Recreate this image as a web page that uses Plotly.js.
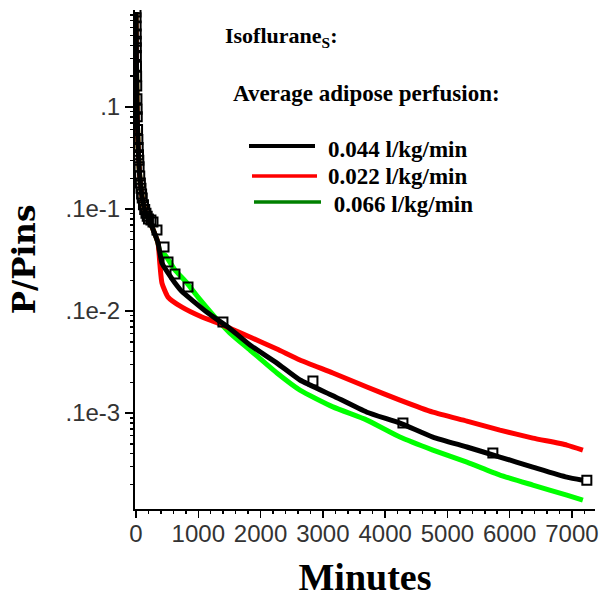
<!DOCTYPE html>
<html>
<head>
<meta charset="utf-8">
<script src="https://cdn.plot.ly/plotly-3.0.1.min.js"></script>
<style>html,body{margin:0;padding:0;background:#fff;}#chart{width:606px;height:598px;}</style>
</head>
<body>
<div id="chart"></div>
<script>
// ---- data (minutes, P/Pins) ----
var tBlack = [0,2,5,10,15,20,30,40,50,60,80,100,140,200,257,353,417,514,626,738,899,1156,1477,1830,2263,2632,3162,3708,4238,4767,5313,5843,6372,6918,7175];
var yBlack = [0.85,0.62,0.38,0.2,0.12,0.08,0.048,0.034,0.026,0.021,0.016,0.0128,0.0099,0.008,0.00667,0.00465,0.00295,0.00236,0.00188,0.00155,0.00128,0.000955,0.000697,0.000464,0.000309,0.000211,0.000148,0.000102,0.0000798,0.0000582,0.0000465,0.0000371,0.0000296,0.0000236,0.0000220];

var tRed = [0,2,5,10,15,20,30,40,50,60,80,100,140,200,257,353,385,417,514,738,1059,1316,1830,2263,2632,3162,3708,4238,4767,5313,5843,6372,6918,7175];
var yRed = [0.85,0.62,0.38,0.2,0.12,0.08,0.048,0.034,0.026,0.021,0.016,0.0128,0.0099,0.008,0.00667,0.00465,0.00282,0.00188,0.00137,0.00109,0.000873,0.000762,0.000556,0.000424,0.000331,0.000247,0.000180,0.000134,0.000102,0.0000835,0.0000681,0.0000569,0.0000486,0.0000434];

var tGreen = [0,2,5,10,15,20,30,40,50,60,80,100,140,200,257,353,385,465,626,819,995,1268,1509,1830,2263,2632,3162,3708,4238,4767,5313,5843,6372,6918,7175];
var yGreen = [0.85,0.62,0.38,0.2,0.12,0.08,0.048,0.034,0.026,0.021,0.016,0.0128,0.0099,0.008,0.00667,0.00465,0.0037,0.00354,0.00252,0.00188,0.00137,0.000873,0.000608,0.000415,0.000247,0.000168,0.000115,0.0000853,0.0000582,0.0000434,0.0000331,0.0000247,0.0000197,0.0000157,0.0000140];

var tObs = [0,1,2,3,4,5,6,8,10,12,15,18,20,25,30,35,40,45,50,60,70,80,90,100,120,140,160,180,200,240,273,337,450,514,626,835,1396,2841,4286,5730,7239];
var yObs = [0.85,0.75,0.62,0.52,0.44,0.38,0.32,0.25,0.2,0.16,0.12,0.095,0.08,0.06,0.048,0.04,0.034,0.03,0.026,0.021,0.018,0.016,0.014,0.0128,0.011,0.0099,0.0091,0.0085,0.008,0.0078,0.00746,0.00622,0.00424,0.00302,0.00231,0.00172,0.00078,0.000206,0.0000798,0.0000406,0.0000220];

var xTickVals = [0,1000,2000,3000,4000,5000,6000,7000];
var yTickVals = [0.1,0.01,0.001,0.0001];
var yTickText = ['.1','.1e-1','.1e-2','.1e-3'];

var legendLabels = ['0.044 l/kg/min','0.022 l/kg/min',' 0.066 l/kg/min'];
var legendColors = ['#000000','#ff0000','#008000'];

// minor log ticks (2..9 per decade)
var yMinor = [];
[1e-5,1e-4,1e-3,1e-2,1e-1].forEach(function(d){ for (var k=2;k<=9;k++) yMinor.push(k*d); });

var xRange = [-16,7370];
var yRange = [-4.94,-0.05];

var traces = [
  {x:tGreen, y:yGreen, mode:'lines', line:{color:'#00ff00', width:5, shape:'spline', smoothing:0.5}, hoverinfo:'skip'},
  {x:tRed, y:yRed, mode:'lines', line:{color:'#ff0000', width:5, shape:'spline', smoothing:0.5}, hoverinfo:'skip'},
  {x:tBlack, y:yBlack, mode:'lines', line:{color:'#000000', width:5, shape:'spline', smoothing:0.5}, hoverinfo:'skip'},
  {x:tObs, y:yObs, mode:'markers', marker:{symbol:'square-open', size:9, color:'#000', line:{width:2, color:'#000'}}, hoverinfo:'skip'},
  // empty trace that carries the minor-tick overlay axes
  {x:[null], y:[null], xaxis:'x2', yaxis:'y2', mode:'markers', hoverinfo:'skip', showlegend:false}
];

var L = 135, R = 595, T = 10, B = 509;
function px(x){ return (x-L)/(R-L); }
function py(y){ return (B-y)/(B-T); }

var legendLines = [[249,315,146,4],[252,317,176,3.5],[254,321,202,3.5]];
var shapes = legendLines.map(function(s,i){
  return {type:'line', xref:'paper', yref:'paper', x0:px(s[0]), x1:px(s[1]), y0:py(s[2]), y1:py(s[2]), line:{color:legendColors[i], width:s[3]}};
});

var textFont = {family:'"Liberation Serif", "Times New Roman", serif', size:22, color:'#000'};
var textFont2 = {family:'"Liberation Serif", "Times New Roman", serif', size:23, color:'#000'};
var annotations = [
  {text:'<b>Isoflurane<sub>S</sub>:</b>', x:px(223), y:py(37), xref:'paper', yref:'paper', xanchor:'left', yanchor:'middle', showarrow:false, font:textFont},
  {text:'<b>Average adipose perfusion:</b>', x:px(231), y:py(93), xref:'paper', yref:'paper', xanchor:'left', yanchor:'middle', showarrow:false, font:textFont2},
  {text:'<b>'+legendLabels[0]+'</b>', x:px(326), y:py(150), xref:'paper', yref:'paper', xanchor:'left', yanchor:'middle', showarrow:false, font:textFont2},
  {text:'<b>'+legendLabels[1]+'</b>', x:px(326), y:py(176), xref:'paper', yref:'paper', xanchor:'left', yanchor:'middle', showarrow:false, font:textFont2},
  {text:'<b>'+legendLabels[2]+'</b>', x:px(326), y:py(205), xref:'paper', yref:'paper', xanchor:'left', yanchor:'middle', showarrow:false, font:textFont2}
];

var tickFont = {family:'"Liberation Sans", Arial, sans-serif', size:24, color:'#333'};

var layout = {
  width:606, height:598,
  margin:{l:L, r:606-R, t:T, b:598-B, pad:0},
  paper_bgcolor:'#fff', plot_bgcolor:'#fff',
  showlegend:false,
  xaxis:{
    range:xRange, tickmode:'array', tickvals:xTickVals,
    ticks:'outside', ticklen:7, tickwidth:1.5, tickcolor:'#000', ticklabelstandoff:-5,
    showline:true, linecolor:'#000', linewidth:2, zeroline:false, showgrid:false,
    tickfont:tickFont, automargin:false,
    title:{text:'<b>Minutes</b>', font:{family:'"Liberation Serif", "Times New Roman", serif', size:38, color:'#000'}, standoff:20}
  },
  yaxis:{
    type:'log', range:yRange, tickmode:'array', tickvals:yTickVals, ticktext:yTickText,
    ticks:'outside', ticklen:8, tickwidth:1.5, tickcolor:'#000',
    showline:true, linecolor:'#000', linewidth:2, zeroline:false, showgrid:false,
    tickfont:tickFont, automargin:false,
    title:{text:'<b>P/Pins</b>', font:{family:'"DejaVu Serif", serif', size:31, color:'#000'}, standoff:21}
  },
  xaxis2:{
    overlaying:'x', anchor:'y', side:'bottom', range:xRange, tickmode:'linear', tick0:0, dtick:200,
    ticks:'outside', ticklen:4, tickwidth:1.5, tickcolor:'#000', showticklabels:false,
    showline:false, zeroline:false, showgrid:false
  },
  yaxis2:{
    overlaying:'y', anchor:'x', side:'left', type:'log', range:yRange, tickmode:'array', tickvals:yMinor,
    ticks:'outside', ticklen:4, tickwidth:1.5, tickcolor:'#000', showticklabels:false,
    showline:false, zeroline:false, showgrid:false
  },
  shapes:shapes,
  annotations:annotations
};

Plotly.newPlot('chart', traces, layout, {staticPlot:true, displayModeBar:false});
</script>
</body>
</html>
